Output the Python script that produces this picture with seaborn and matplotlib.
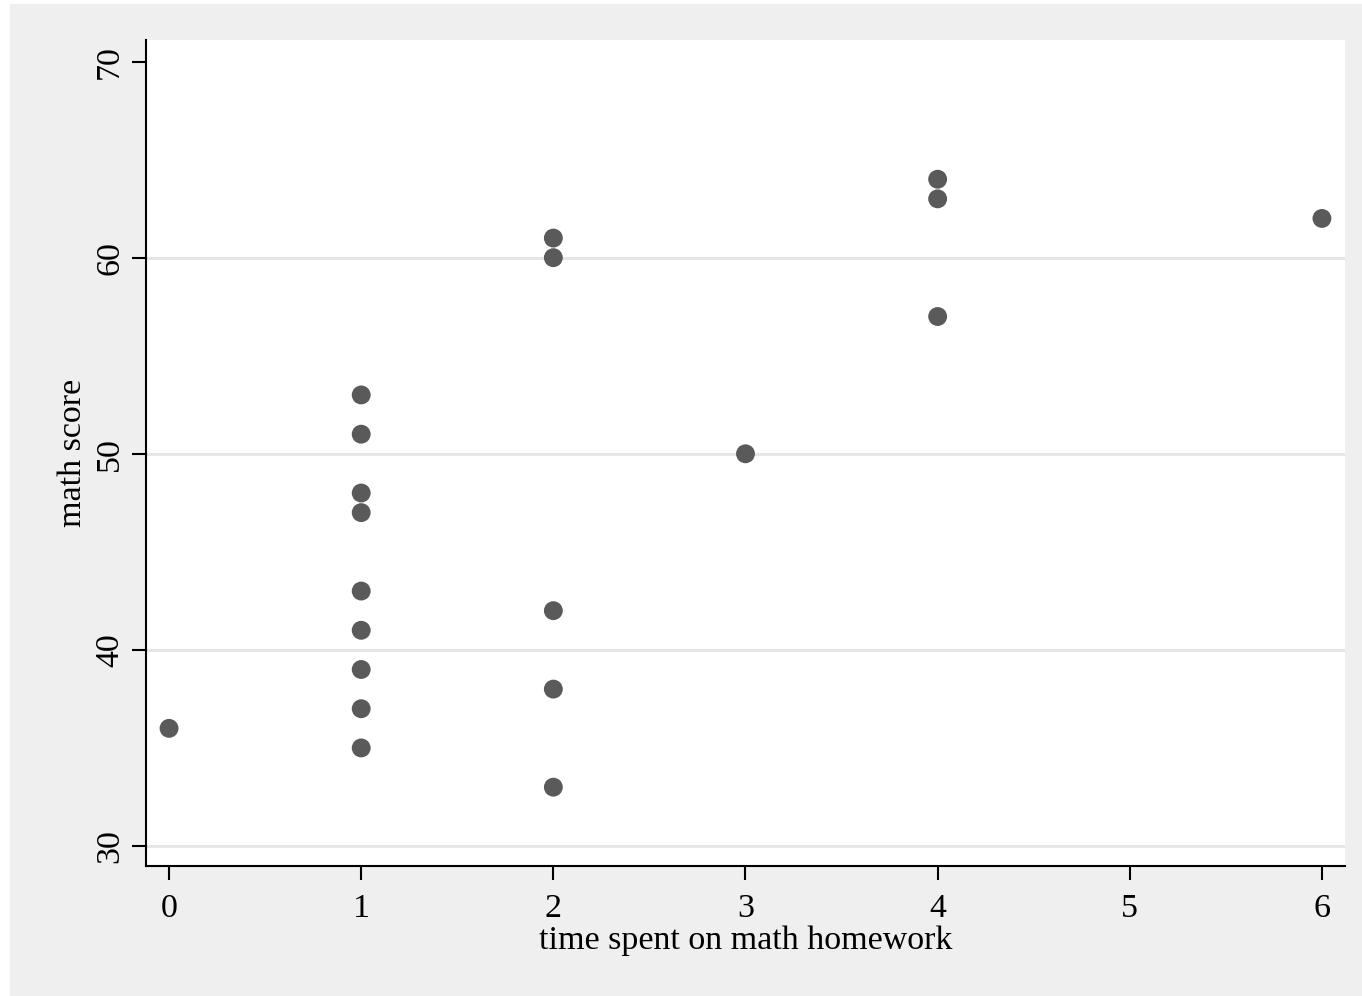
import matplotlib
matplotlib.use('Agg')
import matplotlib.pyplot as plt
import matplotlib.patches as patches
import pandas as pd
import seaborn as sns

# homework hours vs math score
hours = [0, 1, 1, 1, 1, 1, 1, 1, 1, 1, 2, 2, 2, 2, 2, 3, 4, 4, 4, 6]
score = [36, 53, 51, 48, 47, 43, 41, 39, 37, 35, 61, 60, 42, 38, 33, 50, 64, 63, 57, 62]
x_ticks = [0, 1, 2, 3, 4, 5, 6]
y_ticks = [30, 40, 50, 60, 70]
grid_lines = [30, 40, 50, 60]

df = pd.DataFrame({'hours': hours, 'score': score})

sns.set_style('white')
plt.rcParams['font.family'] = ['Liberation Serif', 'DejaVu Serif']
plt.rcParams['text.color'] = 'black'
plt.rcParams['axes.labelcolor'] = 'black'

W, H = 1362, 996
fig = plt.figure(figsize=(W / 100, H / 100), dpi=100, facecolor='white')
fig.patches.append(patches.Rectangle((10 / W, 0), 1 - 10 / W, (H - 4) / H,
                                     transform=fig.transFigure, color='#efefef',
                                     zorder=-5))

ax = fig.add_axes([146 / W, (H - 866) / H, (1345 - 146) / W, (866 - 40) / H])
ax.set_facecolor('white')

for g in grid_lines:
    ax.axhline(g, color='#e6e6e6', lw=2.2, zorder=1)

sns.scatterplot(data=df, x='hours', y='score', ax=ax, s=185,
                color='#5a5a5a', edgecolor='none', zorder=3)

ax.set_xlim(-0.12, 6.12)
ax.set_ylim(28.98, 71.1)
ax.set_xticks(x_ticks)
ax.set_yticks(y_ticks)
ax.set_xticklabels([str(v) for v in x_ticks], fontsize=24.5)
ax.set_yticklabels([str(v) for v in y_ticks], fontsize=24.5, rotation=90, va='center')
ax.tick_params(axis='both', direction='out', length=10, width=1.5, color='black',
               labelcolor='black', left=True, bottom=True)
ax.tick_params(axis='x', pad=10)
ax.tick_params(axis='y', pad=5)

for side in ['top', 'right']:
    ax.spines[side].set_visible(False)
for side in ['left', 'bottom']:
    ax.spines[side].set_color('black')
    ax.spines[side].set_linewidth(1.5)

ax.set_xlabel('time spent on math homework', fontsize=24.5, labelpad=1)
ax.set_ylabel('math score', fontsize=24.5, labelpad=5)

fig.savefig('out.png', dpi=100, facecolor=fig.get_facecolor())
